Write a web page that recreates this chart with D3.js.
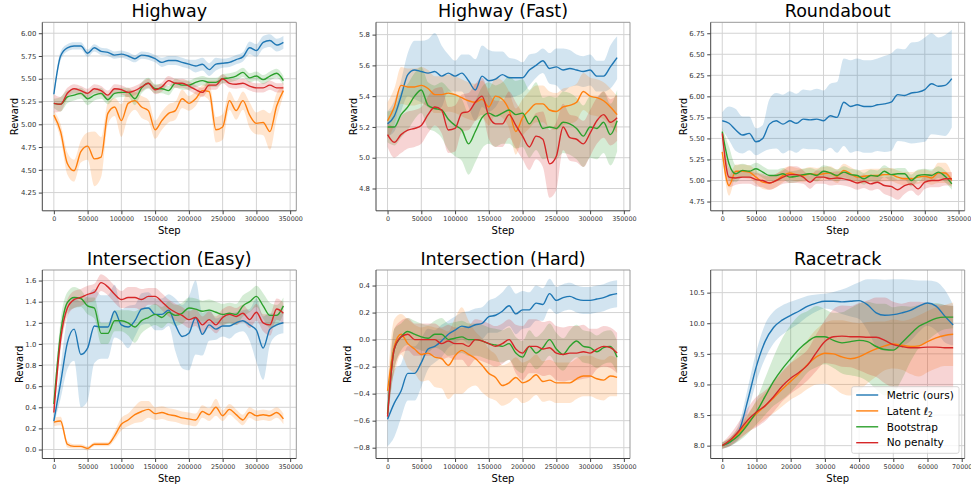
<!DOCTYPE html>
<html>
<head>
<meta charset="utf-8">
<script src="https://cdn.jsdelivr.net/npm/d3@7"></script>
<style>
  body { margin: 0; background: #fff; }
  svg text { font-family: "DejaVu Sans", sans-serif; }
</style>
</head>
<body>
<div id="chart"></div>
<script>
// steps (x values) and tick labels
var longSteps = [0,10000,20000,30000,40000,50000,60000,70000,80000,90000,100000,110000,120000,130000,140000,150000,160000,170000,180000,190000,200000,210000,220000,230000,240000,250000,260000,270000,280000,290000,300000,310000,320000,330000,340000];
var rtSteps = [0,2500,5000,7500,10000,12500,15000,17500,20000,22500,25000,27500,30000,32500,35000,37500,40000,42500,45000,47500,50000,52500,55000,57500,60000,62500,65000,67500];
var longTicks = [0,50000,100000,150000,200000,250000,300000,350000];
var rtTicks = [0,10000,20000,30000,40000,50000,60000,70000];

var seriesNames = ["Metric (ours)", "Latent", "Bootstrap", "No penalty"];
var colors = ["#1f77b4", "#ff7f0e", "#2ca02c", "#d62728"];

// Highway
var hwMetric = [5.33,5.75,5.84,5.86,5.86,5.78,5.84,5.80,5.79,5.76,5.77,5.75,5.72,5.76,5.75,5.72,5.68,5.70,5.70,5.68,5.66,5.64,5.66,5.60,5.66,5.67,5.68,5.71,5.74,5.84,5.81,5.90,5.92,5.87,5.90];
var hwMetricBand = [0.02,0.05,0.04,0.04,0.04,0.04,0.04,0.04,0.04,0.04,0.04,0.04,0.04,0.04,0.04,0.04,0.05,0.05,0.05,0.05,0.05,0.07,0.07,0.07,0.07,0.05,0.05,0.05,0.05,0.07,0.07,0.07,0.07,0.07,0.07];
var hwLatent = [5.10,4.92,4.57,4.49,4.70,4.76,4.62,4.64,5.12,5.19,5.04,5.23,5.26,5.19,5.15,4.94,5.04,5.12,5.15,5.28,5.23,5.28,5.37,5.36,4.94,4.97,5.26,5.15,5.26,5.10,5.01,5.02,4.92,5.20,5.37];
var hwLatentBand = [0.05,0.08,0.12,0.12,0.12,0.15,0.30,0.22,0.12,0.10,0.18,0.15,0.10,0.12,0.12,0.10,0.10,0.10,0.10,0.10,0.08,0.08,0.06,0.10,0.14,0.14,0.10,0.10,0.10,0.14,0.12,0.14,0.20,0.14,0.05];
var hwBoot = [5.23,5.22,5.30,5.32,5.34,5.28,5.32,5.34,5.27,5.34,5.35,5.35,5.28,5.40,5.45,5.39,5.39,5.37,5.45,5.43,5.43,5.46,5.48,5.46,5.46,5.50,5.51,5.53,5.57,5.51,5.53,5.49,5.53,5.56,5.48];
var hwBootBand = [0.05,0.08,0.07,0.06,0.06,0.07,0.06,0.06,0.05,0.05,0.05,0.05,0.07,0.06,0.06,0.05,0.05,0.05,0.05,0.05,0.05,0.05,0.05,0.05,0.05,0.05,0.05,0.05,0.05,0.05,0.05,0.05,0.05,0.05,0.05];
var hwNoPen = [5.23,5.22,5.34,5.39,5.37,5.34,5.39,5.37,5.32,5.39,5.38,5.35,5.37,5.41,5.45,5.38,5.41,5.48,5.45,5.45,5.42,5.38,5.35,5.43,5.43,5.50,5.45,5.44,5.45,5.42,5.40,5.40,5.43,5.40,5.40];
var hwNoPenBand = [0.10,0.08,0.06,0.05,0.05,0.05,0.05,0.05,0.05,0.05,0.05,0.05,0.05,0.05,0.05,0.05,0.05,0.05,0.05,0.05,0.05,0.05,0.05,0.05,0.05,0.05,0.05,0.05,0.05,0.05,0.05,0.05,0.05,0.05,0.05];

// Highway (Fast)
var hfMetric = [5.22,5.27,5.40,5.54,5.57,5.56,5.55,5.56,5.53,5.55,5.53,5.55,5.50,5.44,5.53,5.50,5.51,5.54,5.52,5.52,5.52,5.57,5.60,5.63,5.58,5.59,5.57,5.58,5.57,5.56,5.57,5.53,5.53,5.59,5.65];
var hfMetricBand = [0.08,0.10,0.10,0.14,0.19,0.20,0.22,0.25,0.20,0.12,0.10,0.12,0.17,0.20,0.20,0.20,0.18,0.15,0.13,0.12,0.10,0.10,0.08,0.08,0.10,0.12,0.14,0.12,0.10,0.10,0.10,0.10,0.10,0.14,0.14];
var hfLatent = [5.24,5.33,5.47,5.46,5.46,5.47,5.45,5.41,5.41,5.42,5.41,5.39,5.37,5.36,5.38,5.33,5.40,5.38,5.31,5.17,5.26,5.31,5.35,5.35,5.31,5.30,5.33,5.34,5.36,5.43,5.40,5.39,5.37,5.33,5.28];
var hfLatentBand = [0.12,0.12,0.12,0.12,0.12,0.12,0.12,0.12,0.12,0.12,0.12,0.12,0.12,0.12,0.12,0.12,0.12,0.12,0.12,0.15,0.12,0.12,0.12,0.12,0.12,0.12,0.12,0.12,0.12,0.12,0.12,0.12,0.12,0.12,0.12];
var hfBoot = [5.20,5.20,5.28,5.33,5.40,5.44,5.34,5.32,5.31,5.25,5.21,5.18,5.09,5.17,5.26,5.29,5.27,5.29,5.31,5.28,5.29,5.22,5.27,5.19,5.20,5.19,5.23,5.22,5.19,5.14,5.20,5.19,5.23,5.15,5.24];
var hfBootBand = [0.10,0.12,0.15,0.15,0.15,0.15,0.15,0.15,0.18,0.20,0.20,0.20,0.20,0.20,0.20,0.20,0.20,0.20,0.22,0.22,0.22,0.22,0.22,0.20,0.20,0.20,0.20,0.20,0.20,0.20,0.20,0.20,0.20,0.20,0.20];
var hfNoPen = [5.15,5.10,5.15,5.18,5.19,5.21,5.28,5.33,5.31,5.18,5.19,5.29,5.30,5.36,5.40,5.27,5.22,5.22,5.28,5.21,5.14,5.07,5.14,5.12,4.96,5.01,5.20,5.13,5.12,5.09,5.16,5.24,5.28,5.23,5.26];
var hfNoPenBand = [0.08,0.10,0.12,0.12,0.12,0.12,0.12,0.12,0.15,0.15,0.15,0.12,0.12,0.12,0.12,0.15,0.15,0.15,0.15,0.15,0.15,0.15,0.15,0.18,0.22,0.22,0.15,0.15,0.15,0.15,0.15,0.15,0.15,0.15,0.15];

// Roundabout
var rbMetric = [5.71,5.68,5.60,5.54,5.56,5.46,5.50,5.67,5.71,5.67,5.71,5.68,5.73,5.72,5.73,5.71,5.77,5.75,5.93,5.88,5.90,5.88,5.88,5.90,5.91,5.93,6.02,6.01,6.04,6.05,6.08,6.15,6.12,6.13,6.21];
var rbMetricBand = [0.10,0.20,0.25,0.22,0.20,0.16,0.16,0.30,0.33,0.35,0.35,0.35,0.35,0.35,0.36,0.36,0.38,0.42,0.52,0.55,0.55,0.55,0.55,0.55,0.57,0.58,0.55,0.55,0.60,0.60,0.62,0.60,0.58,0.60,0.58];
var rbLatent = [5.34,4.94,5.11,5.11,5.10,5.04,4.98,4.97,5.00,5.06,5.09,5.07,5.06,5.08,5.07,5.08,5.09,5.05,5.12,5.08,5.04,5.05,5.06,5.06,5.07,5.07,5.04,5.02,5.02,5.04,5.05,5.03,5.09,5.09,5.00];
var rbLatentBand = [0.05,0.12,0.08,0.08,0.08,0.08,0.08,0.08,0.08,0.08,0.08,0.08,0.08,0.08,0.08,0.08,0.08,0.08,0.08,0.08,0.08,0.08,0.08,0.08,0.08,0.08,0.08,0.08,0.08,0.08,0.08,0.08,0.12,0.12,0.08];
var rbBoot = [5.58,5.20,5.08,5.12,5.11,5.14,5.10,5.06,5.06,5.08,5.04,5.05,5.07,5.08,5.06,5.11,5.09,5.06,5.10,5.07,5.06,5.02,5.06,5.05,5.11,5.07,5.08,5.08,5.00,5.06,5.07,5.06,5.10,5.05,4.96];
var rbBootBand = [0.05,0.20,0.10,0.08,0.07,0.07,0.07,0.07,0.07,0.07,0.07,0.07,0.07,0.07,0.07,0.07,0.07,0.07,0.07,0.07,0.07,0.07,0.07,0.07,0.07,0.07,0.07,0.07,0.07,0.07,0.07,0.07,0.07,0.07,0.07];
var rbNoPen = [5.56,5.04,5.03,5.04,5.04,5.01,5.00,4.97,5.00,5.04,5.07,5.07,5.04,4.98,5.04,5.04,5.02,5.03,5.02,5.00,4.97,4.99,4.96,4.98,4.94,4.93,4.89,4.94,4.96,4.90,4.98,5.00,5.00,5.02,5.02];
var rbNoPenBand = [0.05,0.12,0.08,0.08,0.08,0.08,0.08,0.08,0.08,0.08,0.10,0.10,0.08,0.08,0.08,0.08,0.08,0.08,0.08,0.08,0.08,0.08,0.08,0.08,0.10,0.12,0.12,0.10,0.08,0.08,0.08,0.08,0.08,0.08,0.08];

// Intersection (Easy)
var ieMetric = [0.27,0.63,1.01,1.14,0.90,0.96,1.17,1.16,1.16,1.31,1.18,1.16,1.22,1.33,1.34,1.28,1.28,1.32,1.18,1.07,1.10,1.25,1.09,1.18,1.14,1.17,1.17,1.20,1.22,1.18,1.13,0.96,1.14,1.18,1.20];
var ieMetricBand = [0.03,0.15,0.25,0.30,0.50,0.50,0.35,0.30,0.30,0.25,0.15,0.20,0.15,0.15,0.15,0.15,0.15,0.15,0.25,0.30,0.35,0.35,0.20,0.15,0.10,0.10,0.12,0.10,0.10,0.15,0.30,0.30,0.15,0.10,0.10];
var ieLatent = [0.26,0.27,0.05,0.03,0.03,0.01,0.05,0.05,0.05,0.13,0.24,0.28,0.33,0.36,0.38,0.34,0.35,0.33,0.32,0.30,0.29,0.28,0.36,0.33,0.40,0.32,0.38,0.33,0.28,0.35,0.32,0.33,0.32,0.35,0.29];
var ieLatentBand = [0.04,0.04,0.03,0.02,0.02,0.02,0.02,0.02,0.02,0.04,0.06,0.06,0.08,0.10,0.08,0.06,0.06,0.06,0.06,0.06,0.06,0.06,0.06,0.06,0.08,0.05,0.05,0.05,0.05,0.05,0.05,0.05,0.05,0.05,0.05];
var ieBoot = [0.43,1.10,1.39,1.44,1.43,1.36,1.34,1.10,1.10,1.22,1.22,1.20,1.16,1.22,1.25,1.28,1.25,1.30,1.27,1.29,1.34,1.33,1.31,1.32,1.30,1.28,1.29,1.28,1.36,1.40,1.45,1.36,1.27,1.27,1.36];
var ieBootBand = [0.05,0.12,0.10,0.10,0.08,0.08,0.10,0.10,0.10,0.10,0.10,0.12,0.15,0.12,0.10,0.10,0.10,0.10,0.10,0.10,0.10,0.10,0.10,0.10,0.10,0.10,0.10,0.10,0.10,0.10,0.10,0.12,0.12,0.10,0.08];
var ieNoPen = [0.35,1.04,1.34,1.42,1.44,1.47,1.49,1.58,1.54,1.47,1.42,1.44,1.44,1.42,1.45,1.45,1.40,1.34,1.30,1.27,1.23,1.25,1.18,1.23,1.18,1.25,1.28,1.26,1.29,1.23,1.30,1.20,1.18,1.33,1.29];
var ieNoPenBand = [0.05,0.10,0.08,0.08,0.08,0.08,0.08,0.08,0.08,0.08,0.08,0.10,0.10,0.10,0.08,0.08,0.08,0.08,0.08,0.08,0.08,0.08,0.08,0.08,0.08,0.08,0.08,0.08,0.08,0.08,0.08,0.08,0.10,0.10,0.10];

// Intersection (Hard)
var ihMetric = [-0.59,-0.47,-0.38,-0.25,-0.25,-0.17,-0.07,-0.05,-0.01,0.04,0.07,0.10,0.09,0.11,0.12,0.17,0.18,0.21,0.25,0.19,0.22,0.22,0.27,0.26,0.34,0.29,0.31,0.32,0.30,0.29,0.29,0.30,0.31,0.33,0.34];
var ihMetricBand = [0.20,0.25,0.20,0.20,0.20,0.18,0.15,0.12,0.12,0.10,0.10,0.10,0.12,0.12,0.12,0.12,0.13,0.14,0.15,0.15,0.14,0.13,0.13,0.12,0.11,0.10,0.10,0.10,0.10,0.10,0.10,0.10,0.10,0.10,0.10];
var ihLatent = [-0.38,-0.05,0.04,-0.03,-0.07,-0.11,-0.10,-0.13,-0.14,-0.19,-0.12,-0.08,-0.11,-0.14,-0.19,-0.25,-0.28,-0.34,-0.32,-0.28,-0.32,-0.30,-0.26,-0.31,-0.30,-0.32,-0.32,-0.32,-0.29,-0.27,-0.27,-0.29,-0.30,-0.27,-0.28];
var ihLatentBand = [0.05,0.20,0.15,0.18,0.18,0.20,0.20,0.22,0.22,0.25,0.28,0.32,0.25,0.20,0.20,0.18,0.17,0.15,0.15,0.15,0.15,0.15,0.15,0.15,0.15,0.15,0.15,0.15,0.15,0.15,0.15,0.15,0.15,0.15,0.14];
var ihBoot = [-0.55,-0.07,0.02,0.06,0.04,0.02,0.01,0.04,0.04,0.00,0.01,0.02,0.00,0.00,-0.01,-0.03,-0.04,-0.05,-0.03,-0.10,-0.13,-0.05,-0.10,-0.06,0.00,-0.07,-0.11,-0.05,-0.01,-0.05,-0.06,-0.09,-0.06,-0.05,-0.13];
var ihBootBand = [0.05,0.15,0.10,0.10,0.10,0.10,0.10,0.10,0.12,0.12,0.12,0.12,0.12,0.12,0.12,0.12,0.12,0.12,0.12,0.12,0.12,0.12,0.12,0.12,0.12,0.12,0.12,0.12,0.12,0.12,0.12,0.12,0.12,0.12,0.12];
var ihNoPen = [-0.57,-0.07,0.02,0.04,0.00,0.00,0.00,0.00,-0.03,-0.01,-0.03,-0.03,-0.05,0.00,-0.01,-0.03,-0.05,-0.03,0.00,-0.07,-0.10,-0.05,-0.05,-0.07,-0.06,-0.10,-0.11,-0.10,-0.10,-0.09,-0.10,-0.07,-0.05,-0.06,-0.10];
var ihNoPenBand = [0.05,0.15,0.12,0.12,0.12,0.12,0.12,0.12,0.12,0.12,0.12,0.12,0.15,0.15,0.15,0.15,0.15,0.15,0.15,0.18,0.20,0.20,0.20,0.20,0.20,0.20,0.20,0.20,0.20,0.20,0.18,0.15,0.15,0.15,0.15];

// Racetrack
var rtMetric = [8.00,8.07,8.25,8.75,9.30,9.70,9.93,10.05,10.13,10.20,10.28,10.33,10.36,10.36,10.35,10.36,10.37,10.30,10.17,10.13,10.14,10.17,10.21,10.28,10.33,10.28,10.12,9.97];
var rtMetricBand = [0.05,0.07,0.12,0.20,0.25,0.28,0.26,0.24,0.22,0.20,0.17,0.14,0.12,0.15,0.20,0.25,0.30,0.42,0.55,0.58,0.58,0.55,0.50,0.42,0.37,0.40,0.43,0.33];
var rtLatent = [8.00,8.08,8.22,8.37,8.52,8.65,8.78,8.92,9.05,9.18,9.33,9.45,9.51,9.50,9.45,9.42,9.45,9.52,9.58,9.63,9.66,9.64,9.62,9.63,9.70,9.76,9.80,9.82];
var rtLatentBand = [0.05,0.07,0.10,0.15,0.20,0.22,0.25,0.28,0.30,0.35,0.40,0.45,0.50,0.55,0.60,0.60,0.55,0.50,0.45,0.40,0.40,0.40,0.45,0.50,0.50,0.50,0.50,0.52];
var rtBoot = [8.00,8.07,8.18,8.35,8.55,8.80,9.05,9.25,9.42,9.58,9.70,9.78,9.78,9.72,9.68,9.70,9.72,9.70,9.62,9.57,9.56,9.68,9.82,9.95,10.02,10.08,10.10,10.10];
var rtBootBand = [0.05,0.07,0.10,0.15,0.20,0.30,0.40,0.50,0.55,0.55,0.50,0.50,0.45,0.45,0.50,0.55,0.60,0.65,0.70,0.75,0.70,0.60,0.45,0.35,0.30,0.25,0.20,0.18];
var rtNoPen = [8.00,8.10,8.25,8.42,8.55,8.65,8.80,8.97,9.10,9.20,9.32,9.52,9.70,9.78,9.79,9.78,9.78,9.77,9.77,9.72,9.65,9.62,9.60,9.60,9.61,9.61,9.60,9.60];
var rtNoPenBand = [0.05,0.10,0.15,0.20,0.25,0.25,0.25,0.25,0.25,0.25,0.25,0.30,0.35,0.45,0.50,0.50,0.55,0.60,0.65,0.70,0.70,0.70,0.75,0.75,0.72,0.70,0.70,0.68];

// layout
var colLeft = [42.3, 376, 710.7],
    rowTop = [22.3, 270],
    W = 254, H = 188.5;

var panels = [
  {title: "Highway", col: 0, row: 0, steps: longSteps, xTicks: longTicks,
   xDomain: [-17100, 359100], yDomain: [4.05, 6.12], yTicks: [4.25,4.5,4.75,5,5.25,5.5,5.75,6], yFmt: ".2f",
   means: [hwMetric, hwLatent, hwBoot, hwNoPen], bands: [hwMetricBand, hwLatentBand, hwBootBand, hwNoPenBand]},
  {title: "Highway (Fast)", col: 1, row: 0, steps: longSteps, xTicks: longTicks,
   xDomain: [-17100, 359100], yDomain: [4.655, 5.88], yTicks: [4.8,5.0,5.2,5.4,5.6,5.8], yFmt: ".1f",
   means: [hfMetric, hfLatent, hfBoot, hfNoPen], bands: [hfMetricBand, hfLatentBand, hfBootBand, hfNoPenBand]},
  {title: "Roundabout", col: 2, row: 0, steps: longSteps, xTicks: longTicks,
   xDomain: [-17100, 359100], yDomain: [4.64, 6.88], yTicks: [4.75,5,5.25,5.5,5.75,6,6.25,6.5,6.75], yFmt: ".2f",
   means: [rbMetric, rbLatent, rbBoot, rbNoPen], bands: [rbMetricBand, rbLatentBand, rbBootBand, rbNoPenBand]},
  {title: "Intersection (Easy)", col: 0, row: 1, steps: longSteps, xTicks: longTicks,
   xDomain: [-17100, 359100], yDomain: [-0.085, 1.70], yTicks: [0,0.2,0.4,0.6,0.8,1.0,1.2,1.4,1.6], yFmt: ".1f",
   means: [ieMetric, ieLatent, ieBoot, ieNoPen], bands: [ieMetricBand, ieLatentBand, ieBootBand, ieNoPenBand]},
  {title: "Intersection (Hard)", col: 1, row: 1, steps: longSteps, xTicks: longTicks,
   xDomain: [-17100, 359100], yDomain: [-0.88, 0.515], yTicks: [-0.8,-0.6,-0.4,-0.2,0,0.2,0.4], yFmt: ".1f",
   means: [ihMetric, ihLatent, ihBoot, ihNoPen], bands: [ihMetricBand, ihLatentBand, ihBootBand, ihNoPenBand]},
  {title: "Racetrack", col: 2, row: 1, steps: rtSteps, xTicks: rtTicks,
   xDomain: [-3375, 70875], yDomain: [7.79, 10.87], yTicks: [8.0,8.5,9.0,9.5,10.0,10.5], yFmt: ".1f",
   means: [rtMetric, rtLatent, rtBoot, rtNoPen], bands: [rtMetricBand, rtLatentBand, rtBootBand, rtNoPenBand]}
];

var svg = d3.select("#chart").append("svg")
    .attr("width", 971)
    .attr("height", 484);

panels.forEach(function(p, pi) {
  var left = colLeft[p.col], top = rowTop[p.row];
  var g = svg.append("g").attr("transform", "translate(" + left + "," + top + ")");

  var x = d3.scaleLinear().domain(p.xDomain).range([0, W]);
  var y = d3.scaleLinear().domain(p.yDomain).range([H, 0]);

  // grid
  g.selectAll(".gx").data(p.xTicks).enter().append("line")
    .attr("x1", function(d) { return x(d); }).attr("x2", function(d) { return x(d); })
    .attr("y1", 0).attr("y2", H)
    .attr("stroke", "#d3d3d3").attr("stroke-width", 1);
  g.selectAll(".gy").data(p.yTicks).enter().append("line")
    .attr("y1", function(d) { return y(d); }).attr("y2", function(d) { return y(d); })
    .attr("x1", 0).attr("x2", W)
    .attr("stroke", "#d3d3d3").attr("stroke-width", 1);

  svg.append("clipPath").attr("id", "clip" + pi)
    .append("rect").attr("width", W).attr("height", H);
  var plot = g.append("g").attr("clip-path", "url(#clip" + pi + ")");

  // shaded bands
  p.means.forEach(function(m, si) {
    var band = p.bands[si];
    var area = d3.area()
      .x(function(d, j) { return x(p.steps[j]); })
      .y0(function(d, j) { return y(d - band[j]); })
      .y1(function(d, j) { return y(d + band[j]); })
      .curve(d3.curveMonotoneX);
    plot.append("path").datum(m)
      .attr("d", area)
      .attr("fill", colors[si])
      .attr("fill-opacity", 0.2);
  });

  // mean lines
  p.means.forEach(function(m, si) {
    var line = d3.line()
      .x(function(d, j) { return x(p.steps[j]); })
      .y(function(d) { return y(d); })
      .curve(d3.curveMonotoneX);
    plot.append("path").datum(m)
      .attr("d", line)
      .attr("fill", "none")
      .attr("stroke", colors[si])
      .attr("stroke-width", 1.4);
  });

  // spines
  g.append("line").attr("x1", 0).attr("x2", W).attr("y1", 0).attr("y2", 0).attr("stroke", "#999");
  g.append("line").attr("x1", W).attr("x2", W).attr("y1", 0).attr("y2", H).attr("stroke", "#999");
  g.append("line").attr("x1", 0).attr("x2", 0).attr("y1", 0).attr("y2", H).attr("stroke", "#444");
  g.append("line").attr("x1", 0).attr("x2", W).attr("y1", H).attr("y2", H).attr("stroke", "#444");

  // axes
  var xAxis = g.append("g").attr("transform", "translate(0," + H + ")")
    .call(d3.axisBottom(x).tickValues(p.xTicks).tickFormat(d3.format("d")).tickSize(3.5).tickPadding(2.5));
  var yAxis = g.append("g")
    .call(d3.axisLeft(y).tickValues(p.yTicks).tickFormat(d3.format(p.yFmt)).tickSize(3.5).tickPadding(2.5));
  [xAxis, yAxis].forEach(function(a) {
    a.select(".domain").remove();
    a.selectAll("line").attr("stroke", "#444");
    a.selectAll("text").attr("fill", "#333")
      .style("font-family", "'DejaVu Sans', sans-serif");
  });
  xAxis.selectAll("text").style("font-size", "6.4px");
  yAxis.selectAll("text").style("font-size", "6.9px");

  // title and axis labels
  g.append("text").attr("x", W / 2).attr("y", -5)
    .attr("text-anchor", "middle").style("font-size", "17.5px").attr("fill", "#000")
    .text(p.title);
  g.append("text").attr("x", W / 2).attr("y", H + 23)
    .attr("text-anchor", "middle").style("font-size", "10px").attr("fill", "#000")
    .text("Step");
  var bb = yAxis.node().getBBox();
  g.append("text")
    .attr("transform", "translate(" + (bb.x - 6) + "," + (H / 2) + ") rotate(-90)")
    .attr("text-anchor", "middle").attr("dy", "0.35em")
    .style("font-size", "10px").attr("fill", "#000")
    .text("Reward");
});

// legend inside the Racetrack panel
var legend = svg.append("g").attr("transform", "translate(851.7,386.7)");
legend.append("rect")
  .attr("width", 107.3).attr("height", 66.6).attr("rx", 2)
  .attr("fill", "#fff").attr("fill-opacity", 0.8)
  .attr("stroke", "#ccc").attr("stroke-width", 0.8);
seriesNames.forEach(function(name, i) {
  var ly = 8.3 + i * 15.9;
  legend.append("line")
    .attr("x1", 4.5).attr("x2", 26.5).attr("y1", ly).attr("y2", ly)
    .attr("stroke", colors[i]).attr("stroke-width", 1.4);
  var t = legend.append("text")
    .attr("x", 35).attr("y", ly + 3.8)
    .style("font-size", "10.5px").attr("fill", "#000");
  t.append("tspan").text(name);
  if (i === 1) {
    t.append("tspan").text(" \u2113").style("font-style", "italic");
    t.append("tspan").attr("dy", 2.5).style("font-size", "7.5px").text("2");
  }
});
</script>
</body>
</html>
